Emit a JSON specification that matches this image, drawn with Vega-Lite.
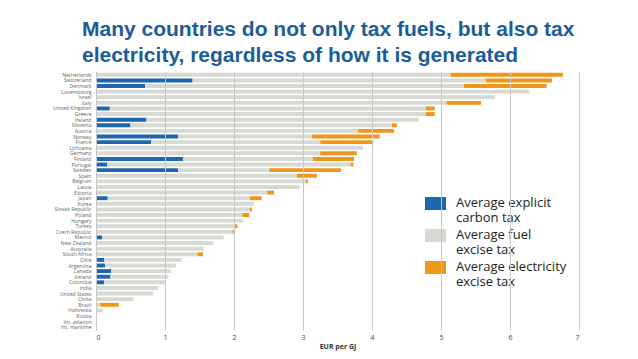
{
  "$schema": "https://vega.github.io/schema/vega-lite/v6.json",
  "width": 483,
  "height": 258,
  "autosize": "none",
  "padding": {"left": 96, "top": 72, "right": 59, "bottom": 29},
  "background": "white",
  "title": {
    "text": ["Many countries do not only tax fuels, but also tax", "electricity, regardless of how it is generated"],
    "anchor": "start",
    "frame": "group",
    "dx": -14,
    "offset": 6,
    "font": "Liberation Sans",
    "fontSize": 21,
    "fontWeight": "bold",
    "color": "#1b5d98",
    "lineHeight": 26
  },
  "config": {"view": {"stroke": null}},
  "data": {
    "values": [
      {"country": "Netherlands", "carbon": 0, "fuel": 5.14, "power": 1.63},
      {"country": "Switzerland", "carbon": 1.40, "fuel": 4.25, "power": 0.96},
      {"country": "Denmark", "carbon": 0.71, "fuel": 4.62, "power": 1.20},
      {"country": "Luxembourg", "carbon": 0, "fuel": 6.28, "power": 0},
      {"country": "Israel", "carbon": 0, "fuel": 5.78, "power": 0},
      {"country": "Italy", "carbon": 0, "fuel": 5.08, "power": 0.50},
      {"country": "United Kingdom", "carbon": 0.20, "fuel": 4.58, "power": 0.13},
      {"country": "Greece", "carbon": 0, "fuel": 4.78, "power": 0.13},
      {"country": "Ireland", "carbon": 0.73, "fuel": 3.95, "power": 0},
      {"country": "Slovenia", "carbon": 0.50, "fuel": 3.79, "power": 0.07},
      {"country": "Austria", "carbon": 0, "fuel": 3.80, "power": 0.52},
      {"country": "Norway", "carbon": 1.19, "fuel": 1.94, "power": 0.98},
      {"country": "France", "carbon": 0.80, "fuel": 2.45, "power": 0.77},
      {"country": "Lithuania", "carbon": 0, "fuel": 3.87, "power": 0},
      {"country": "Germany", "carbon": 0, "fuel": 3.25, "power": 0.53},
      {"country": "Finland", "carbon": 1.26, "fuel": 1.88, "power": 0.60},
      {"country": "Portugal", "carbon": 0.16, "fuel": 3.53, "power": 0.04},
      {"country": "Sweden", "carbon": 1.19, "fuel": 1.32, "power": 1.04},
      {"country": "Spain", "carbon": 0, "fuel": 2.91, "power": 0.29},
      {"country": "Belgium", "carbon": 0, "fuel": 3.04, "power": 0.03},
      {"country": "Latvia", "carbon": 0, "fuel": 2.95, "power": 0},
      {"country": "Estonia", "carbon": 0.02, "fuel": 2.46, "power": 0.10},
      {"country": "Japan", "carbon": 0.17, "fuel": 2.06, "power": 0.17},
      {"country": "Korea", "carbon": 0, "fuel": 2.29, "power": 0},
      {"country": "Slovak Republic", "carbon": 0, "fuel": 2.23, "power": 0.03},
      {"country": "Poland", "carbon": 0, "fuel": 2.12, "power": 0.10},
      {"country": "Hungary", "carbon": 0, "fuel": 2.14, "power": 0},
      {"country": "Turkey", "carbon": 0, "fuel": 2.00, "power": 0.05},
      {"country": "Czech Republic", "carbon": 0, "fuel": 1.98, "power": 0.02},
      {"country": "Mexico", "carbon": 0.09, "fuel": 1.76, "power": 0},
      {"country": "New Zealand", "carbon": 0, "fuel": 1.70, "power": 0},
      {"country": "Australia", "carbon": 0, "fuel": 1.56, "power": 0},
      {"country": "South Africa", "carbon": 0, "fuel": 1.47, "power": 0.08},
      {"country": "Chile", "carbon": 0.12, "fuel": 1.12, "power": 0},
      {"country": "Argentina", "carbon": 0.13, "fuel": 1.03, "power": 0},
      {"country": "Canada", "carbon": 0.22, "fuel": 0.86, "power": 0},
      {"country": "Iceland", "carbon": 0.21, "fuel": 0.84, "power": 0},
      {"country": "Colombia", "carbon": 0.12, "fuel": 0.89, "power": 0},
      {"country": "India", "carbon": 0, "fuel": 0.90, "power": 0},
      {"country": "United States", "carbon": 0, "fuel": 0.83, "power": 0},
      {"country": "China", "carbon": 0, "fuel": 0.54, "power": 0},
      {"country": "Brazil", "carbon": 0, "fuel": 0.06, "power": 0.27},
      {"country": "Indonesia", "carbon": 0, "fuel": 0.10, "power": 0},
      {"country": "Russia", "carbon": 0, "fuel": 0, "power": 0},
      {"country": "Int. aviation", "carbon": 0, "fuel": 0, "power": 0},
      {"country": "Int. maritime", "carbon": 0, "fuel": 0, "power": 0}
    ]
  },
  "transform": [{"fold": ["carbon", "fuel", "power"], "as": ["tax", "v"]}],
  "mark": {"type": "bar"},
  "encoding": {
    "y": {
      "field": "country",
      "type": "nominal",
      "sort": null,
      "scale": {"paddingInner": 0.3, "paddingOuter": 0.15},
      "axis": {
        "title": null,
        "labelFontSize": 5.1,
        "labelFont": "Open Sans",
        "labelColor": "#666666",
        "ticks": false,
        "labelPadding": 5,
        "domainColor": "#555555",
        "domainWidth": 1,
        "grid": false
      }
    },
    "x": {
      "field": "v",
      "type": "quantitative",
      "stack": "zero",
      "scale": {"domain": [0, 7], "nice": false},
      "axis": {
        "title": "EUR per GJ",
        "values": [0, 1, 2, 3, 4, 5, 6, 7],
        "grid": true,
        "gridColor": "#c8c8c8",
        "gridWidth": 1,
        "domain": false,
        "ticks": false,
        "zindex": 1,
        "labelFont": "Open Sans",
        "labelFontSize": 7,
        "labelColor": "#444444",
        "labelPadding": 3,
        "titleFont": "Open Sans",
        "titleFontSize": 7,
        "titleFontWeight": "bold",
        "titleColor": "#333333",
        "titlePadding": 2
      }
    },
    "color": {
      "field": "tax",
      "type": "nominal",
      "scale": {"domain": ["carbon", "fuel", "power"], "range": ["#1f66b0", "#d6dad2", "#f0961a"]},
      "legend": {
        "orient": "none",
        "legendX": 320,
        "legendY": 112,
        "title": null,
        "fillColor": "white",
        "padding": 9,
        "symbolType": "M-1,-0.62H1V0.62H-1Z",
        "symbolSize": 441,
        "symbolStrokeWidth": 0,
        "symbolOpacity": 1,
        "labelFont": "Open Sans",
        "labelFontSize": 13,
        "labelColor": "#231f20",
        "labelLimit": 300,
        "labelOffset": 10,
        "labelBaseline": "middle",
        "labelLineHeight": 14.5,
        "rowPadding": 0,
        "labelExpr": "datum.value == 'carbon' ? ['Average explicit', 'carbon tax'] : datum.value == 'fuel' ? ['Average fuel', 'excise tax'] : ['Average electricity', 'excise tax']",
        "encode": {"labels": {"update": {"dy": {"value": -1}}}}
      }
    },
    "order": {"field": "tax"}
  }
}
